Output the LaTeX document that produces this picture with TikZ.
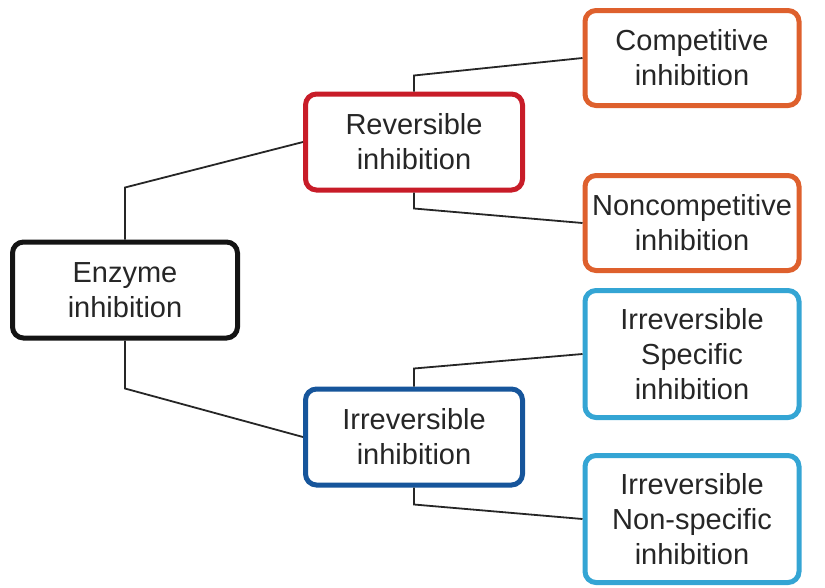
\documentclass[tikz,border=0pt]{standalone}
\usepackage{fontspec}
\setmainfont{Liberation Sans}
\usepackage{tikz}

\definecolor{enzblack}{RGB}{20,20,20}
\definecolor{revred}{RGB}{200,28,40}
\definecolor{compor}{RGB}{222,96,45}
\definecolor{irrblue}{RGB}{22,85,155}
\definecolor{subblue}{RGB}{52,165,212}

\begin{document}
\begin{tikzpicture}[x=1pt,y=-1pt,
	box/.style={draw,line width=5pt,rounded corners=11pt,fill=white,align=center,text=black!85,
		font=\fontsize{29}{35}\selectfont,inner sep=0pt},
	mainbox/.style={box,minimum width=225pt,minimum height=96pt},
	leafbox/.style={box,minimum width=214pt,minimum height=95pt},
	tallbox/.style={box,minimum width=214pt,minimum height=127pt},
	link/.style={line width=1.8pt,black!85}]
	\useasboundingbox (0,0) rectangle (825,587);
	\node[mainbox,draw=enzblack] (enz) at (125,290) {Enzyme\\inhibition};
	\node[mainbox,draw=revred,minimum width=217pt] (rev) at (414,142) {Reversible\\inhibition};
	\node[mainbox,draw=irrblue,minimum width=217pt] (irr) at (414,437) {Irreversible\\inhibition};
	\node[leafbox,draw=compor] (comp) at (692,58) {Competitive\\inhibition};
	\node[leafbox,draw=compor] (noncomp) at (692,223) {Noncompetitive\\inhibition};
	\node[tallbox,draw=subblue] (spec) at (692,354) {Irreversible\\Specific\\inhibition};
	\node[tallbox,draw=subblue] (nonspec) at (692,519) {Irreversible\\Non-specific\\inhibition};
	\draw[link] (enz.north) -- ++(0,-52) -- (rev.west);
	\draw[link] (enz.south) -- ++(0,48) -- (irr.west);
	\draw[link] (rev.north) -- ++(0,-16) -- (comp.west);
	\draw[link] (rev.south) -- ++(0,16) -- (noncomp.west);
	\draw[link] (irr.north) -- ++(0,-18) -- (spec.west);
	\draw[link] (irr.south) -- ++(0,17) -- (nonspec.west);
\end{tikzpicture}
\end{document}
